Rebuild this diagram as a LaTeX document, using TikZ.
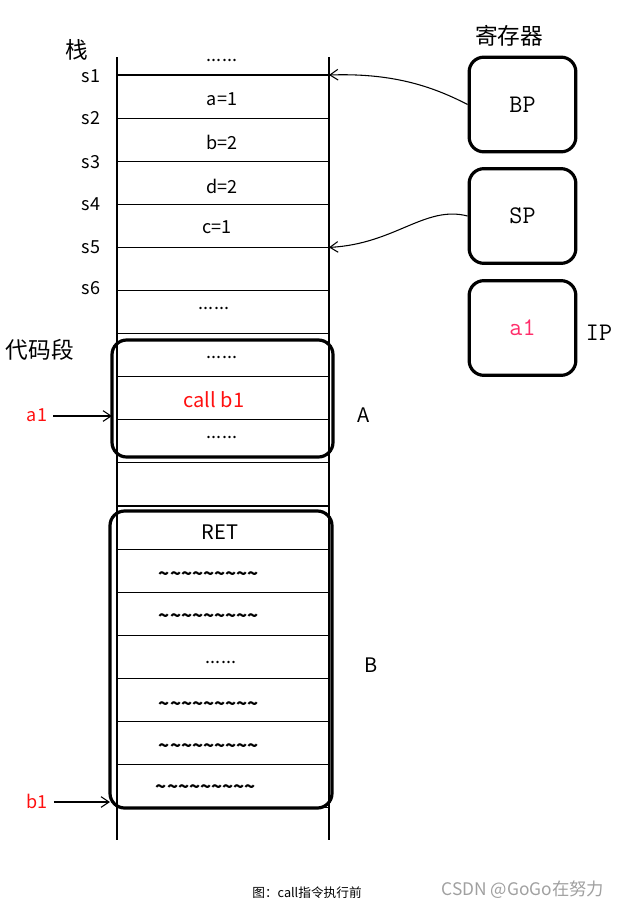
\documentclass[tikz,border=0pt]{standalone}
\usepackage{fontspec}
\setmainfont{Noto Sans CJK SC}
\usetikzlibrary{arrows.meta}
\definecolor{txtred}{HTML}{FF1010}
\definecolor{regred}{HTML}{FF2D6A}
\definecolor{wm}{HTML}{A0A0A0}
\newcommand{\tld}{\textasciitilde\textasciitilde\textasciitilde\textasciitilde\textasciitilde\textasciitilde\textasciitilde\textasciitilde\textasciitilde}
\begin{document}
\begin{tikzpicture}[x=0.75pt,y=-0.75pt,
  thinline/.style={line width=0.8pt},
  boxline/.style={line width=2.4pt,rounded corners=11pt},
  reg/.style={draw,line width=2.4pt,rounded corners=11pt,minimum width=80pt,minimum height=71pt,inner sep=0pt,font=\ttfamily\fontsize{19}{22}\selectfont},
  cell/.style={inner sep=0pt,font=\fontsize{13.5}{16}\selectfont},
  tcell/.style={inner sep=0pt,font=\bfseries\fontsize{13.7}{16}\selectfont},
  bigcell/.style={inner sep=0pt,font=\fontsize{15}{18}\selectfont},
  lab/.style={inner sep=0pt,font=\fontsize{13.5}{16}\selectfont},
  cjklab/.style={inner sep=0pt,font=\fontsize{17}{20}\selectfont},
  ptr/.style={thinline,-{Straight Barb[length=6pt,width=8pt]}}]
\useasboundingbox (0,0) rectangle (619,910);
% stack column
\draw[thinline] (117,57) -- (117,840);
\draw[thinline] (329,57) -- (329,840);
\foreach \k in {0,...,17}{
  \draw[thinline] (117,{75+43.1*\k}) -- (329,{75+43.1*\k});
}
\coordinate (s1r) at (329,75);
\coordinate (s5r) at (329,247.4);
% cell texts
\node[cell] (t0) at (222,60) {......};
\node[cell] (t1) at (222,99) {a=1};
\node[cell] (t2) at (222,142) {b=2};
\node[cell] (t3) at (222,186) {d=2};
\node[cell] (t4) at (217,227) {c=1};
\node[cell] (t6) at (214,308) {......};
\node[cell] (t7) at (222,357) {......};
\node[bigcell,text=txtred] (t8) at (214,400) {call b1};
\node[cell] (t9) at (222,437) {......};
\node[bigcell] (t11) at (220,532) {RET};
\node[tcell] (t12) at (209,576) {\tld};
\node[tcell] (t13) at (209,618) {\tld};
\node[cell] (t14) at (221,662) {......};
\node[tcell] (t15) at (209,706) {\tld};
\node[tcell] (t16) at (209,748) {\tld};
\node[tcell] (t17) at (206,789) {\tld};
% stack labels
\node[cjklab] (zhan) at (77,50) {栈};
\node[lab] (l1) at (91,76) {s1};
\node[lab] (l2) at (91,118) {s2};
\node[lab] (l3) at (91,162) {s3};
\node[lab] (l4) at (91,204) {s4};
\node[lab] (l5) at (91,247) {s5};
\node[lab] (l6) at (91,288) {s6};
\node[cjklab] (dmd) at (40,350) {代码段};
% code boxes
\draw[boxline] (112,340) rectangle (333,457);
\draw[boxline] (110,511) rectangle (332,808);
\node[inner sep=0pt,font=\fontsize{15}{18}\selectfont] (A) at (364,415) {A};
\node[inner sep=0pt,font=\fontsize{15}{18}\selectfont] (B) at (371,665) {B};
% entry arrows
\node[lab,text=txtred] (a1) at (37,415) {a1};
\node[lab,text=txtred] (b1) at (37,801) {b1};
\coordinate (a1e) at (112,416);
\coordinate (b1e) at (110,802);
\draw[ptr] (a1.east) ++(6,1) coordinate (a1s) -- (a1e);
\draw[ptr] (b1.east) ++(6,1) coordinate (b1s) -- (b1e);
% registers
\node[cjklab] (jcq) at (509,36) {寄存器};
\node[reg] (bp) at (522.5,104.5) {BP};
\node[reg] (sp) at (522.5,216) {SP};
\node[reg,text=regred] (ip) at (522.5,328) {a1};
\node[inner sep=0pt,font=\ttfamily\fontsize{19}{22}\selectfont] (iplab) at (599,333) {IP};
\draw[ptr] (bp.west) .. controls (430,85) and (390,73) .. (s1r);
\draw[ptr] (sp.west) .. controls (425,205) and (395,244) .. (s5r);
% caption
\node[inner sep=0pt,font=\fontsize{9.5}{11}\selectfont] (cap) at (307,893) {图：call指令执行前};
\node[inner sep=0pt,text=wm,font=\fontsize{13}{15}\selectfont] (wmk) at (523,890) {CSDN @GoGo在努力};
\end{tikzpicture}
\end{document}
